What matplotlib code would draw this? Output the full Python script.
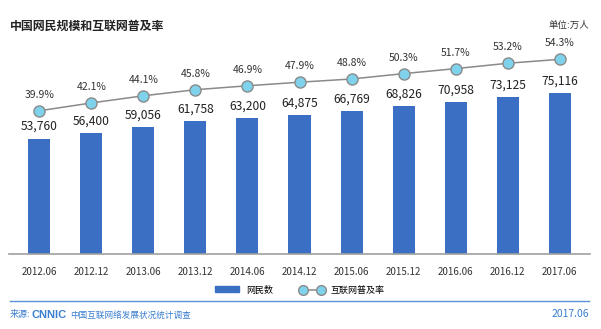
import matplotlib
matplotlib.use('Agg')
import matplotlib.pyplot as plt
from matplotlib.patches import Patch
from matplotlib.lines import Line2D
import numpy as np

plt.rcParams['font.family'] = ['Noto Sans CJK SC', 'DejaVu Sans']

periods = ['2012.06', '2012.12', '2013.06', '2013.12', '2014.06', '2014.12',
           '2015.06', '2015.12', '2016.06', '2016.12', '2017.06']
users = [53760, 56400, 59056, 61758, 63200, 64875, 66769, 68826, 70958, 73125, 75116]
rate = [39.9, 42.1, 44.1, 45.8, 46.9, 47.9, 48.8, 50.3, 51.7, 53.2, 54.3]

bar_color = '#3B6FC3'
dot_color = '#7FD2EC'
blue_txt = '#3A7FD0'

W, H = 601, 329
fig = plt.figure(figsize=(W / 100, H / 100), dpi=100)

# plot area in pixels: x 9..590, y 30..253.5 (from top)
ax = fig.add_axes([9 / W, (H - 253.5) / H, 581 / W, 223.5 / H])
ax2 = ax.twinx()

x = np.arange(len(periods))
ax.bar(x, users, width=0.424, color=bar_color, zorder=2)
for xi, v in zip(x, users):
    ax.annotate(f'{v:,}', (xi, v), xytext=(0, 4), textcoords='offset points',
                ha='center', va='bottom', fontsize=8.7, color='#222222')

ax2.plot(x, rate, color='#8a8a8a', lw=1.1, marker='o', ms=8,
         mfc=dot_color, mec='#8a8a8a', mew=1, zorder=3)
for xi, r in zip(x, rate):
    ax2.annotate(f'{r}%', (xi, r), xytext=(0, 8), textcoords='offset points',
                 ha='center', va='bottom', fontsize=7.5, color='#333333')

ax.set_xlim(-0.58, 10.58)
ax.set_ylim(0, 104540)
ax2.set_ylim(0, 62.5)

for a in (ax, ax2):
    for s in ('top', 'right', 'left'):
        a.spines[s].set_visible(False)
    a.set_yticks([])
ax2.spines['bottom'].set_visible(False)
ax.spines['bottom'].set_color('#a0a0a0')
ax.spines['bottom'].set_linewidth(1.2)
ax.set_xticks(x)
ax.set_xticklabels(periods, fontsize=7, color='#333333')
ax.tick_params(axis='x', length=0, pad=10)

# title and unit
fig.text(10 / W, 1 - 26 / H, '中国网民规模和互联网普及率', fontsize=8.6,
         fontweight='bold', ha='left', va='center', color='#222222')
fig.text(589 / W, 1 - 25 / H, '单位:万人', fontsize=6.8, ha='right', va='center',
         color='#333333')

# legend
handles = [Patch(color=bar_color, label='网民数'),
           Line2D([], [], color='#8a8a8a', lw=1.1, marker='o', ms=7,
                  mfc=dot_color, mec='#8a8a8a', label='互联网普及率')]
fig.legend(handles=handles, loc='center', bbox_to_anchor=(300 / W, 1 - 290 / H),
           ncol=2, frameon=False, fontsize=6.5, handlelength=2.6,
           handleheight=0.6, columnspacing=3, numpoints=2)

# footer
fig.add_artist(Line2D([10 / W, 589 / W], [1 - 301 / H, 1 - 301 / H],
                      color='#5B8FD6', lw=1))
fig.text(10 / W, 1 - 315 / H, '来源:', fontsize=6.5, color=blue_txt,
         ha='left', va='center')
fig.text(31 / W, 1 - 315 / H, 'CNNIC', fontsize=8, fontweight='bold',
         family='Liberation Sans', color=blue_txt, ha='left', va='center')
fig.text(70 / W, 1 - 315 / H, '中国互联网络发展状况统计调查', fontsize=6.2,
         color=blue_txt, ha='left', va='center')
fig.text(589 / W, 1 - 314 / H, '2017.06', fontsize=7.5, color=blue_txt,
         ha='right', va='center')

fig.savefig('out.png', dpi=100)
